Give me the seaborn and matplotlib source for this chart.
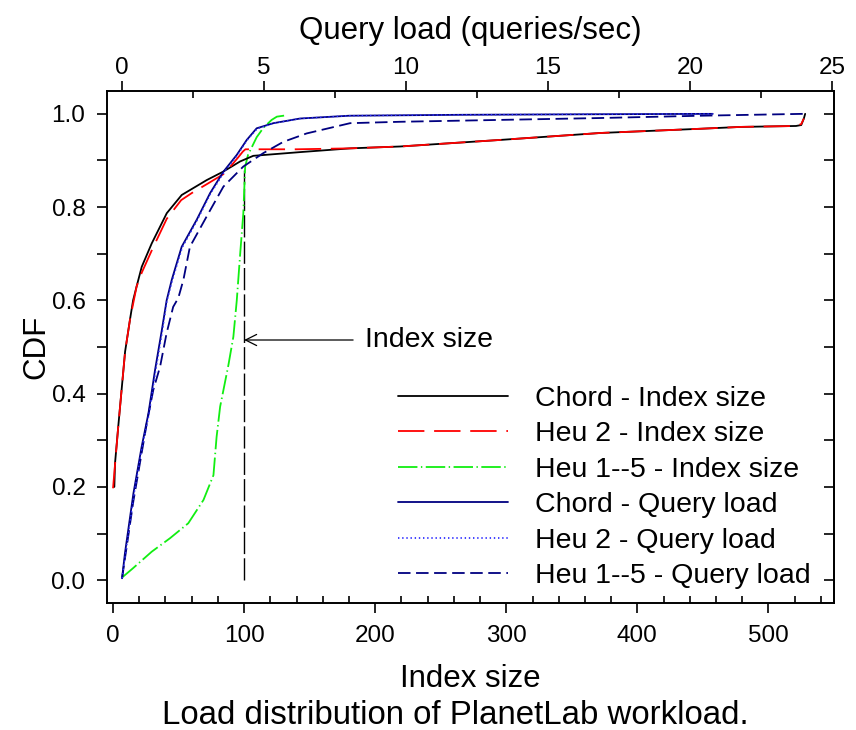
import matplotlib
matplotlib.use("Agg")
import matplotlib.pyplot as plt
import seaborn as sns
import numpy as np
from matplotlib.ticker import MultipleLocator, FixedLocator
from matplotlib.lines import Line2D

# ---- data ----
chord_idx_x = [1, 1.5, 4, 6.6, 9.2, 13, 15.3, 18, 21.9, 29.5, 41, 52.4, 71.5, 84, 97, 107, 143, 181, 219, 295, 372, 448, 479, 521, 525, 527, 528]
chord_idx_y = [0.20, 0.25, 0.33, 0.41, 0.49, 0.56, 0.60, 0.63, 0.672, 0.722, 0.787, 0.826, 0.858, 0.876, 0.898, 0.91, 0.918, 0.926, 0.93, 0.944, 0.959, 0.968, 0.972, 0.974, 0.976, 0.99, 1.0]

heu2_idx_x = [0, 4, 6.6, 9.2, 13, 18, 22, 30, 41, 52, 60, 72, 85, 95, 99, 101, 140, 181, 219, 295, 372, 448, 479, 521, 525, 527]
heu2_idx_y = [0.197, 0.33, 0.41, 0.49, 0.56, 0.63, 0.66, 0.71, 0.775, 0.815, 0.83, 0.85, 0.872, 0.905, 0.919, 0.924, 0.924, 0.926, 0.93, 0.944, 0.959, 0.968, 0.972, 0.974, 0.978, 0.99]

heu15_idx_x = [6.6, 15, 29.5, 43.5, 57.4, 69, 76.6, 79, 81.7, 88, 91.8, 94.4, 97, 99.4, 100.8, 103, 109.6, 114.7, 121, 125, 132.6]
heu15_idx_y = [0.005, 0.025, 0.061, 0.09, 0.122, 0.172, 0.225, 0.307, 0.372, 0.461, 0.522, 0.60, 0.70, 0.787, 0.887, 0.912, 0.95, 0.97, 0.987, 0.994, 0.997]

chord_q_x = [0, 0.1, 0.4, 0.69, 0.93, 1.16, 1.4, 1.57, 1.75, 2.1, 2.63, 3.1, 3.57, 4.04, 4.39, 4.74, 5.33, 6.27, 8.0, 12, 16, 20.8]
chord_q_y = [0.004, 0.057, 0.186, 0.286, 0.358, 0.45, 0.536, 0.60, 0.644, 0.715, 0.773, 0.83, 0.876, 0.912, 0.944, 0.969, 0.98, 0.99, 0.996, 0.998, 0.999, 1.0]

heu2_q_x = [0, 0.12, 0.42, 0.7, 0.95, 1.18, 1.42, 1.58, 1.77, 2.12, 2.65, 3.12, 3.6, 4.06, 4.4, 4.76, 5.35, 6.3, 8.0, 12, 16, 20.8]
heu2_q_y = [0.004, 0.055, 0.183, 0.283, 0.355, 0.447, 0.533, 0.598, 0.642, 0.713, 0.772, 0.829, 0.875, 0.911, 0.943, 0.968, 0.98, 0.99, 0.996, 0.998, 0.999, 1.0]

heu15_q_x = [0, 0.4, 0.87, 1.1, 1.34, 1.57, 1.8, 1.98, 2.16, 2.39, 2.98, 3.57, 4.27, 4.98, 5.68, 6.5, 8.03, 9.8, 13.3, 16.8, 20.4, 24]
heu15_q_y = [0.004, 0.17, 0.336, 0.408, 0.458, 0.53, 0.586, 0.605, 0.644, 0.715, 0.78, 0.844, 0.887, 0.916, 0.94, 0.958, 0.98, 0.983, 0.987, 0.991, 0.996, 1.0]

limit_x = [100, 100]
limit_y = [0.0, 0.88]

labels = ["Chord - Index size", "Heu 2 - Index size", "Heu 1--5 - Index size",
          "Chord - Query load", "Heu 2 - Query load", "Heu 1--5 - Query load"]
x_ticks = [0, 100, 200, 300, 400, 500]
top_ticks = [0, 5, 10, 15, 20, 25]
y_ticks = [0.0, 0.2, 0.4, 0.6, 0.8, 1.0]

# ---- style ----
sns.set_style("ticks")
plt.rcParams["font.family"] = ["Liberation Sans", "DejaVu Sans"]
plt.rcParams["lines.scale_dashes"] = False
for k in ["text.color", "axes.labelcolor", "xtick.color", "ytick.color", "axes.edgecolor"]:
    plt.rcParams[k] = "black"

TICK_FS = 17.5
LAB_FS = 22.5
CAP_FS = 23.8
LEG_FS = 20.5

fig = plt.figure(figsize=(8.56, 7.30), dpi=100)
ax = fig.add_axes([107/856, 1-603/730, (834-107)/856, (603-91)/730])
ax2 = ax.twiny()

lw = 1.3
styles = [
    dict(color="black", linestyle="-"),
    dict(color="#ff0000", linestyle=(0, (19, 7))),
    dict(color="#11ee11", linestyle=(0, (14, 2.5, 1, 2.5))),
    dict(color="#000080", linestyle="-"),
    dict(color="#3333ff", linestyle=(0, (1, 2))),
    dict(color="#000080", linestyle=(0, (9, 4))),
]

sns.lineplot(x=limit_x, y=limit_y, ax=ax, color="black", linestyle=(0, (16, 3)),
             lw=1.0, estimator=None, sort=False)
sns.lineplot(x=heu15_idx_x, y=heu15_idx_y, ax=ax, lw=lw, estimator=None, sort=False, **styles[2])
sns.lineplot(x=chord_idx_x, y=chord_idx_y, ax=ax, lw=lw, estimator=None, sort=False, **styles[0])
sns.lineplot(x=heu2_idx_x, y=heu2_idx_y, ax=ax, lw=lw, estimator=None, sort=False, **styles[1])

sns.lineplot(x=heu15_q_x, y=heu15_q_y, ax=ax2, lw=lw, estimator=None, sort=False, **styles[5])
sns.lineplot(x=chord_q_x, y=chord_q_y, ax=ax2, lw=lw, estimator=None, sort=False, **styles[3])
sns.lineplot(x=heu2_q_x, y=heu2_q_y, ax=ax2, lw=1.0, estimator=None, sort=False, **styles[4])

ax.set_xlim(-4.6, 550)
ax.set_ylim(-0.049, 1.049)
ax2.set_xlim(-0.53, 25.07)

# bottom axis ticks
ax.xaxis.set_major_locator(FixedLocator(x_ticks))
ax.xaxis.set_minor_locator(MultipleLocator(20))
ax.tick_params(axis="x", which="major", direction="out", length=7, width=1.2,
               labelsize=TICK_FS, pad=9)
ax.tick_params(axis="x", which="minor", direction="in", length=5, width=1.2)
# left axis
ax.yaxis.set_major_locator(FixedLocator(y_ticks))
ax.yaxis.set_minor_locator(MultipleLocator(0.1))
ax.set_yticklabels([f"{v:.1f}" for v in y_ticks])
ax.tick_params(axis="y", which="both", direction="out", length=7, width=1.2,
               labelsize=TICK_FS, pad=8.5)
# right axis (inward ticks)
sec = ax.secondary_yaxis("right")
sec.yaxis.set_major_locator(FixedLocator(y_ticks))
sec.yaxis.set_minor_locator(MultipleLocator(0.1))
sec.tick_params(axis="y", which="both", direction="in", length=7, width=1.2, labelright=False)
sec.spines["right"].set_linewidth(1.2)
# top axis
ax2.xaxis.set_major_locator(FixedLocator(top_ticks))
ax2.xaxis.set_minor_locator(FixedLocator([2.5, 7.5, 12.5, 17.5, 22.5]))
ax2.tick_params(axis="x", which="major", direction="out", length=7, width=1.2,
                labelsize=TICK_FS, pad=2)
ax2.tick_params(axis="x", which="minor", direction="in", length=5, width=1.2)

for a in (ax, ax2):
    for s in a.spines.values():
        s.set_linewidth(1.2)
        s.set_visible(True)

ax.set_xlabel("Index size", fontsize=LAB_FS, labelpad=12)
ax.set_ylabel("CDF", fontsize=LAB_FS, labelpad=0)
ax2.set_xlabel("Query load (queries/sec)", fontsize=LAB_FS, labelpad=12.5)

# annotation arrow
ax.annotate("Index size", xy=(100, 0.515), xytext=(192, 0.515),
            fontsize=LEG_FS, va="center", ha="left",
            arrowprops=dict(arrowstyle="->", color="black", lw=0.9,
                            shrinkA=6, shrinkB=0, mutation_scale=20))

handles = [Line2D([], [], lw=lw, **st) for st in styles]
ax2.legend(handles, labels, loc="upper left", bbox_to_anchor=(398/856, 1-386/730),
           bbox_transform=fig.transFigure, frameon=False, fontsize=LEG_FS,
           handlelength=3.85, handletextpad=0.95, labelspacing=0.33,
           borderpad=0, borderaxespad=0)

fig.text(0.532, 1-716/730, "Load distribution of PlanetLab workload.",
         fontsize=CAP_FS, ha="center", va="center")

fig.savefig("out.png", dpi=100)
